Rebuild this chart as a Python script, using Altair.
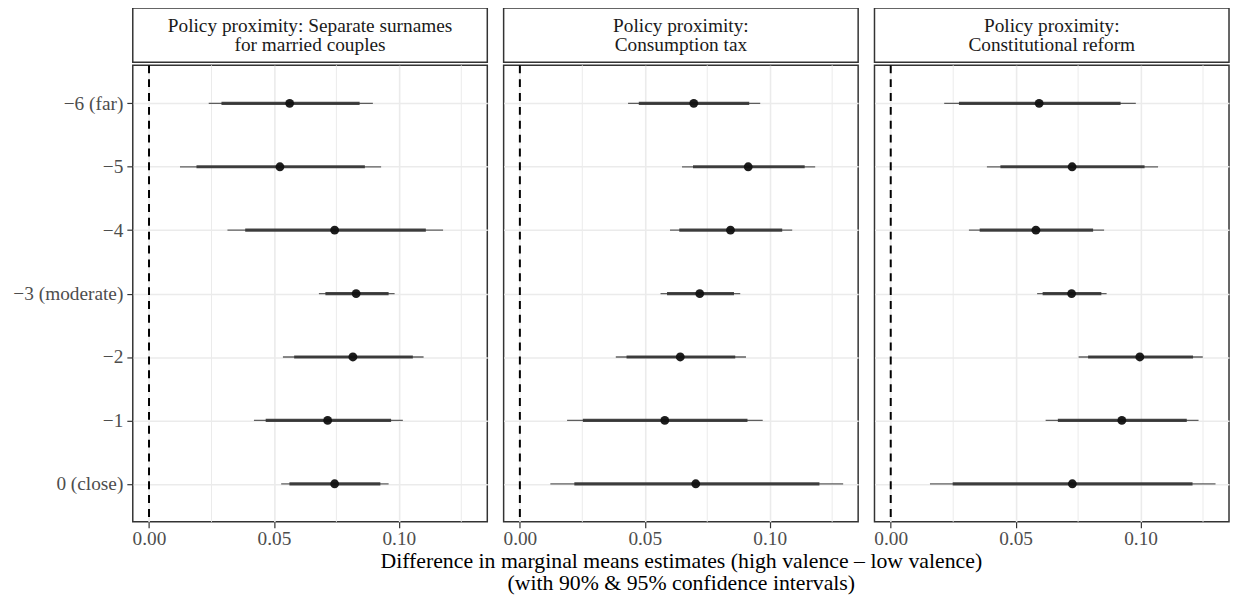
import altair as alt
import pandas as pd

FONT = "Liberation Serif"

levels = ["−6 (far)", "−5", "−4", "−3 (moderate)", "−2", "−1", "0 (close)"]

panel_titles = [
    "Policy proximity: Separate surnames\nfor married couples",
    "Policy proximity:\nConsumption tax",
    "Policy proximity:\nConstitutional reform",
]

# Panel 1: Separate surnames for married couples
est_1 = [0.0563, 0.0524, 0.0743, 0.0829, 0.0816, 0.0715, 0.0743]
lo90_1 = [0.0290, 0.0190, 0.0385, 0.0706, 0.0581, 0.0467, 0.0562]
hi90_1 = [0.0843, 0.0864, 0.1108, 0.0959, 0.1056, 0.0969, 0.0926]
lo95_1 = [0.0239, 0.0124, 0.0314, 0.0680, 0.0536, 0.0420, 0.0529]
hi95_1 = [0.0896, 0.0929, 0.1177, 0.0983, 0.1099, 0.1016, 0.0959]

# Panel 2: Consumption tax
est_2 = [0.0696, 0.0914, 0.0843, 0.0720, 0.0642, 0.0580, 0.0704]
lo90_2 = [0.0476, 0.0693, 0.0638, 0.0589, 0.0427, 0.0252, 0.0218]
hi90_2 = [0.0918, 0.1140, 0.1050, 0.0857, 0.0862, 0.0911, 0.1199]
lo95_2 = [0.0433, 0.0649, 0.0601, 0.0563, 0.0384, 0.0189, 0.0122]
hi95_2 = [0.0962, 0.1182, 0.1090, 0.0882, 0.0905, 0.0972, 0.1294]

# Panel 3: Constitutional reform
est_3 = [0.0594, 0.0726, 0.0581, 0.0724, 0.0997, 0.0925, 0.0727]
lo90_3 = [0.0273, 0.0439, 0.0356, 0.0608, 0.0790, 0.0669, 0.0248]
hi90_3 = [0.0920, 0.1016, 0.0810, 0.0843, 0.1210, 0.1185, 0.1208]
lo95_3 = [0.0214, 0.0385, 0.0313, 0.0586, 0.0752, 0.0620, 0.0157]
hi95_3 = [0.0981, 0.1070, 0.0854, 0.0864, 0.1249, 0.1232, 0.1300]

x_ticks = [0.0, 0.05, 0.10]
minor_breaks = [0.025, 0.075, 0.125]
ref_line = [0.0]
x_domain = [-0.0065, 0.1354]

x_title = [
    "Difference in marginal means estimates (high valence – low valence)",
    "(with 90% & 95% confidence intervals)",
]

series = [
    (est_1, lo90_1, hi90_1, lo95_1, hi95_1),
    (est_2, lo90_2, hi90_2, lo95_2, hi95_2),
    (est_3, lo90_3, hi90_3, lo95_3, hi95_3),
]

PW, PH, SH = 358, 461, 55
GRID = "#ebebeb"
BORDER = alt.ViewBackground(stroke="#333333", strokeWidth=1.5)
TICK_FS = 19.5


def panel(i):
    est, lo90, hi90, lo95, hi95 = series[i]
    d = pd.DataFrame({"level": levels, "est": est, "lo90": lo90, "hi90": hi90,
                      "lo95": lo95, "hi95": hi95})
    xs = alt.Scale(domain=x_domain, nice=False, zero=False)
    ys = alt.Scale(type="point", padding=0.6)
    if i == 0:
        yaxis = alt.Axis(title=None, labelFont=FONT, labelFontSize=TICK_FS, labelColor="#4d4d4d",
                         tickColor="#333333", tickSize=6, tickWidth=1.2, labelPadding=4,
                         domain=False, grid=True, gridColor=GRID, gridWidth=1.6)
    else:
        yaxis = alt.Axis(title=None, labels=False, ticks=False, domain=False,
                         grid=True, gridColor=GRID, gridWidth=1.6)
    xaxis = alt.Axis(values=x_ticks, format=".2f", labelFont=FONT, labelFontSize=TICK_FS,
                     labelColor="#4d4d4d", tickColor="#333333", tickSize=6, tickWidth=1.2,
                     labelPadding=2, domain=False, grid=True, gridColor=GRID, gridWidth=1.6,
                     title=None)
    y = alt.Y("level:O", sort=levels, scale=ys, axis=yaxis)
    base = alt.Chart(d)

    minor = alt.Chart(pd.DataFrame({"m": minor_breaks})).mark_rule(
        color=GRID, strokeWidth=1).encode(x=alt.X("m:Q", scale=xs, axis=xaxis))
    zero = alt.Chart(pd.DataFrame({"z": ref_line})).mark_rule(
        color="black", strokeWidth=2, strokeDash=[8, 6]).encode(x=alt.X("z:Q", scale=xs))
    ci95 = base.mark_rule(color="#444444", strokeWidth=1.3, opacity=0.85).encode(
        x=alt.X("lo95:Q", scale=xs), x2="hi95:Q", y=y)
    ci90 = base.mark_rule(color="#333333", strokeWidth=3.2, opacity=0.9).encode(
        x=alt.X("lo90:Q", scale=xs), x2="hi90:Q", y=y)
    pts = base.mark_point(filled=True, shape="circle", size=80, color="#111111",
                          opacity=0.95).encode(x=alt.X("est:Q", scale=xs), y=y)
    body = alt.layer(minor, zero, ci95, ci90, pts).properties(
        width=PW, height=PH, view=BORDER)

    strip = alt.Chart(pd.DataFrame({"t": [panel_titles[i]]})).mark_text(
        font=FONT, fontSize=19.5, lineBreak="\n", lineHeight=20, baseline="alphabetic",
        align="center", color="#1a1a1a").encode(
        text="t:N", x=alt.value(PW / 2), y=alt.value(24)).properties(
        width=PW, height=SH, view=BORDER)
    return alt.vconcat(strip, body, spacing=0)


chart = alt.hconcat(panel(0), panel(1), panel(2), spacing=13.5).properties(
    padding={"left": 4, "top": -4, "right": 0, "bottom": -2},
    title=alt.TitleParams(text=x_title, orient="bottom", anchor="middle", font=FONT,
                          fontSize=22, fontWeight="normal", color="black",
                          lineHeight=23, offset=2, dx=61),
).configure(background="white", font=FONT).configure_view(
    stroke="#333333", strokeWidth=1.5)

chart.save("out.html", embed_options={"renderer": "svg", "actions": False})
